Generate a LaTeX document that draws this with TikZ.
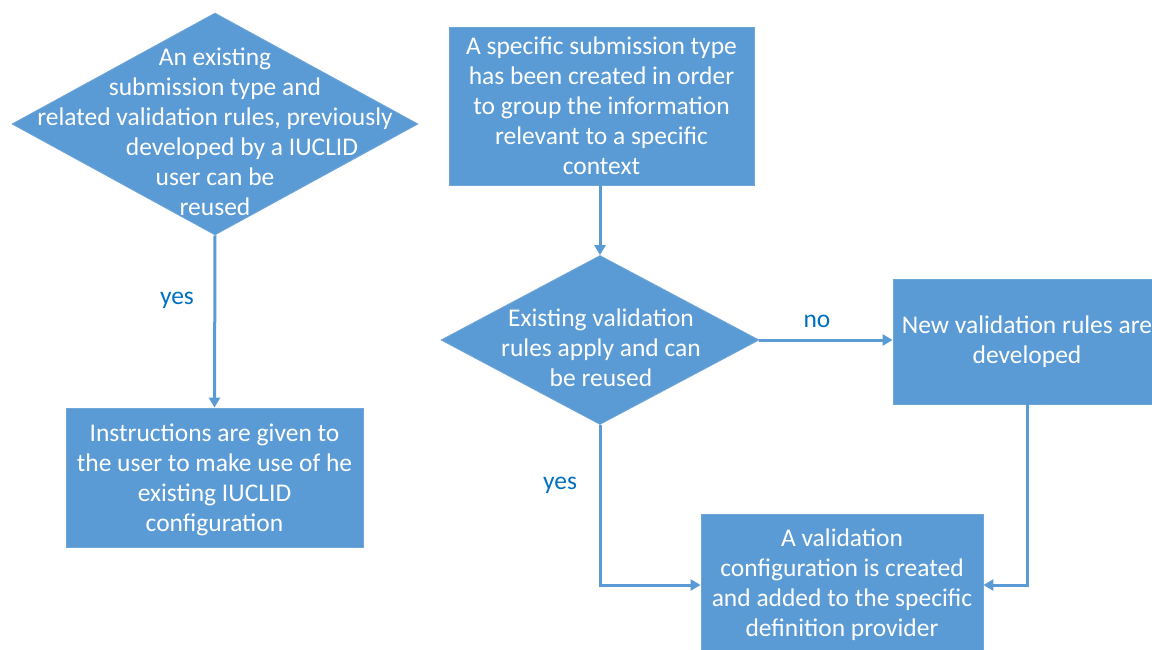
\documentclass[tikz,border=0pt]{standalone}
\usepackage{fontspec}
\setmainfont{Carlito}
\usetikzlibrary{shapes.geometric,arrows.meta}
\definecolor{shapefill}{HTML}{5B9BD5}
\definecolor{shapeedge}{HTML}{6FA6DA}
\definecolor{labelblue}{HTML}{0070C0}
\tikzset{
  stepbox/.style={rectangle, fill=shapefill, draw=shapeedge, line width=0.8pt, inner sep=0pt},
  decision/.style={diamond, fill=shapefill, draw=shapeedge, line width=0.8pt, inner sep=0pt},
  boxtext/.style={text=white, align=center, font=\fontsize{25.5}{30}\selectfont, inner sep=0pt},
  edgelabel/.style={text=labelblue, font=\fontsize{25.5}{30}\selectfont, inner sep=0pt},
  flow/.style={draw=shapefill, line width=3pt, -{Triangle[length=10pt,width=11pt]}}
}
\begin{document}
\begin{tikzpicture}[x=1pt,y=-1pt]
\useasboundingbox (0,0) rectangle (1152,650);
\clip (0,0) rectangle (1152,650);

% shapes
\node[decision, minimum width=406pt, minimum height=222pt] (d1) at (215,124) {};
\node[boxtext] (d1t) at (215,132) {An existing\\submission type and\\related validation rules, previously\\\hspace*{54pt}developed by a IUCLID\\user can be\\reused};

\node[stepbox, minimum width=297pt, minimum height=139pt] (b1) at (214.5,477.5) {};
\node[boxtext] (b1t) at (214.5,480) {Instructions are given to\\the user to make use of he\\existing IUCLID\\configuration};

\node[stepbox, minimum width=305pt, minimum height=158pt] (b2) at (601.5,106) {};
\node[boxtext] (b2t) at (601.5,106) {A specific submission type\\has been created in order\\to group the information\\relevant to a specific\\context};

\node[decision, minimum width=318pt, minimum height=169pt] (d2) at (600,340) {};
\node[boxtext] (d2t) at (601,348) {Existing validation\\rules apply and can\\be reused};

\node[stepbox, minimum width=268pt, minimum height=125pt] (b3) at (1027,341.5) {};
\node[boxtext] (b3t) at (1027,342) {New validation rules are\\developed};

\node[stepbox, minimum width=282pt, minimum height=142pt] (b4) at (842,585) {};
\node[boxtext] (b4t) at (842,585) {A validation\\configuration is created\\and added to the specific\\definition provider};

% connectors
\draw[flow] (d1.south) -- (b1.north);
\draw[flow] (d2.north |- b2.south) -- (d2.north);
\draw[flow] (d2.east) -- (d2.east -| b3.west);
\draw[flow] (d2.south) |- (b4.west);
\draw[flow] (b3.south) |- (b4.east);

% connector labels
\node[edgelabel] (lyes1) at (177,300) {yes};
\node[edgelabel] (lno) at (817,321) {no};
\node[edgelabel] (lyes2) at (560,485) {yes};
\end{tikzpicture}
\end{document}
